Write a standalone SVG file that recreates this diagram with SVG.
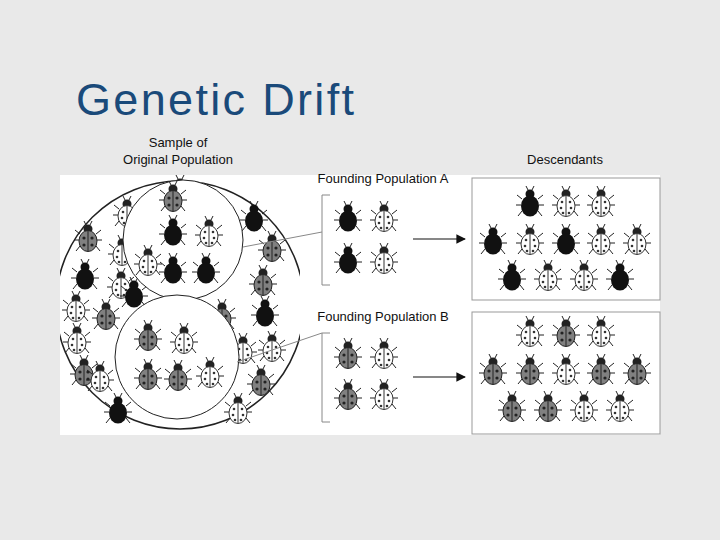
<svg xmlns="http://www.w3.org/2000/svg" xmlns:xlink="http://www.w3.org/1999/xlink" width="720" height="540" viewBox="0 0 720 540">
<style>
.t{font-family:"Liberation Sans",Arial,sans-serif;font-size:13px;fill:#111}
.ln{stroke:#888;stroke-width:1;fill:none}
.leg{stroke:#222;stroke-width:1;fill:none}
</style>
<defs>
<g id="legs" class="leg"><path d="M-8,-4 L-13,-8 M8,-4 L13,-8 M-9,2 L-14,2 M9,2 L14,2 M-8,8 L-12,13 M8,8 L12,13 M-2,-13 L-4,-17 M2,-13 L4,-17"/></g>
<g id="bk"><use xlink:href="#legs"/><circle cx="0" cy="-9" r="4.5" fill="#111"/><ellipse cx="0" cy="3" rx="9" ry="10.5" fill="#111"/></g>
<g id="gr"><use xlink:href="#legs"/><circle cx="0" cy="-9" r="4.5" fill="#222"/><ellipse cx="0" cy="3" rx="9" ry="10.5" fill="#808080" stroke="#222"/><path d="M0,-7 V13" stroke="#222"/><circle cx="-4" cy="0" r="1.6" fill="#222"/><circle cx="4" cy="0" r="1.6" fill="#222"/><circle cx="-4" cy="7" r="1.6" fill="#222"/><circle cx="4" cy="7" r="1.6" fill="#222"/></g>
<g id="wh"><use xlink:href="#legs"/><circle cx="0" cy="-9" r="4.5" fill="#222"/><ellipse cx="0" cy="3" rx="9" ry="10.5" fill="#fff" stroke="#333"/><path d="M0,-7 V13" stroke="#333"/><circle cx="-4" cy="-1" r="1.3" fill="#333"/><circle cx="4" cy="-1" r="1.3" fill="#333"/><circle cx="-5" cy="5" r="1.3" fill="#333"/><circle cx="5" cy="5" r="1.3" fill="#333"/><circle cx="-3" cy="10" r="1.3" fill="#333"/><circle cx="3" cy="10" r="1.3" fill="#333"/></g>
<marker id="ar" viewBox="0 0 10 10" refX="9" refY="5" markerWidth="8" markerHeight="8" orient="auto"><path d="M0,0 L10,5 L0,10 z" fill="#111"/></marker>
<clipPath id="cp"><rect x="60" y="175" width="240" height="260"/></clipPath>
</defs>
<rect width="720" height="540" fill="#e9e9e9"/>
<text x="76" y="115" font-family="'Liberation Sans',Arial,sans-serif" font-size="45" textLength="278" fill="#1a4a7a">Genetic Drift</text>
<rect x="60" y="175" width="600" height="260" fill="#fff"/>
<g id="labels">
<text class="t" x="178" y="147" text-anchor="middle">Sample of</text>
<text class="t" x="178" y="164" text-anchor="middle">Original Population</text>
<text class="t" x="565" y="164" text-anchor="middle">Descendants</text>
<text class="t" x="383" y="183" text-anchor="middle">Founding Population A</text>
<text class="t" x="383" y="321" text-anchor="middle">Founding Population B</text>
</g>
<g id="original" clip-path="url(#cp)">
<circle cx="180" cy="305" r="124" fill="#fff" stroke="#222" stroke-width="1.5"/>
<use xlink:href="#gr" x="180" y="192"/><use xlink:href="#wh" x="127" y="213"/><use xlink:href="#bk" x="254" y="218"/><use xlink:href="#gr" x="88" y="238"/><use xlink:href="#wh" x="122" y="252"/><use xlink:href="#gr" x="272" y="248"/><use xlink:href="#bk" x="85" y="276"/><use xlink:href="#wh" x="121" y="285"/><use xlink:href="#gr" x="263" y="282"/><use xlink:href="#bk" x="134" y="294"/><use xlink:href="#wh" x="76" y="308"/><use xlink:href="#gr" x="106" y="316"/><use xlink:href="#gr" x="222" y="316"/><use xlink:href="#bk" x="265" y="313"/><use xlink:href="#wh" x="77" y="340"/><use xlink:href="#wh" x="243" y="350"/><use xlink:href="#wh" x="272" y="348"/><use xlink:href="#gr" x="84" y="372"/><use xlink:href="#wh" x="100" y="378"/><use xlink:href="#gr" x="261" y="382"/><use xlink:href="#bk" x="118" y="410"/><use xlink:href="#wh" x="238" y="410"/>
<circle cx="183" cy="240" r="60" fill="#fff" stroke="#222" stroke-width="1"/>
<use xlink:href="#gr" x="173" y="198"/><use xlink:href="#bk" x="173" y="232"/><use xlink:href="#wh" x="209" y="233"/><use xlink:href="#wh" x="148" y="262"/><use xlink:href="#bk" x="173" y="270"/><use xlink:href="#bk" x="206" y="270"/>
<circle cx="177" cy="357" r="62" fill="#fff" stroke="#222" stroke-width="1"/>
<use xlink:href="#gr" x="148" y="337"/><use xlink:href="#wh" x="184" y="340"/><use xlink:href="#gr" x="148" y="376"/><use xlink:href="#gr" x="178" y="377"/><use xlink:href="#wh" x="210" y="374"/>
</g>
<g id="connectors">
<path class="ln" d="M243,247 L322,232 M322,195 L330,195 M322,195 V285 L330,285"/>
<path class="ln" d="M237,362 L322,333 M322,333 L330,333 M322,333 V422 L330,422"/>
<path d="M413,239 H465" stroke="#111" stroke-width="1.2" marker-end="url(#ar)"/>
<path d="M413,377 H465" stroke="#111" stroke-width="1.2" marker-end="url(#ar)"/>
</g>
<g id="foundA"><use xlink:href="#bk" x="348" y="218"/><use xlink:href="#wh" x="384" y="218"/><use xlink:href="#bk" x="348" y="260"/><use xlink:href="#wh" x="384" y="260"/></g>
<g id="foundB"><use xlink:href="#gr" x="348" y="355"/><use xlink:href="#wh" x="384" y="355"/><use xlink:href="#gr" x="348" y="396"/><use xlink:href="#wh" x="384" y="396"/></g>
<g id="descA">
<rect x="472" y="178" width="188" height="122" fill="#fff" stroke="#999"/>
<use xlink:href="#bk" x="530" y="203"/><use xlink:href="#wh" x="566" y="203"/><use xlink:href="#wh" x="601" y="203"/>
<use xlink:href="#bk" x="493" y="241"/><use xlink:href="#wh" x="530" y="241"/><use xlink:href="#bk" x="566" y="241"/><use xlink:href="#wh" x="601" y="241"/><use xlink:href="#wh" x="637" y="241"/>
<use xlink:href="#bk" x="512" y="277"/><use xlink:href="#wh" x="548" y="277"/><use xlink:href="#wh" x="584" y="277"/><use xlink:href="#bk" x="620" y="277"/>
</g>
<g id="descB">
<rect x="472" y="312" width="188" height="122" fill="#fff" stroke="#999"/>
<use xlink:href="#wh" x="530" y="333"/><use xlink:href="#gr" x="566" y="333"/><use xlink:href="#wh" x="601" y="333"/>
<use xlink:href="#gr" x="493" y="371"/><use xlink:href="#gr" x="530" y="371"/><use xlink:href="#wh" x="566" y="371"/><use xlink:href="#gr" x="601" y="371"/><use xlink:href="#gr" x="637" y="371"/>
<use xlink:href="#gr" x="512" y="408"/><use xlink:href="#gr" x="548" y="408"/><use xlink:href="#wh" x="584" y="408"/><use xlink:href="#wh" x="620" y="408"/>
</g>
</svg>
